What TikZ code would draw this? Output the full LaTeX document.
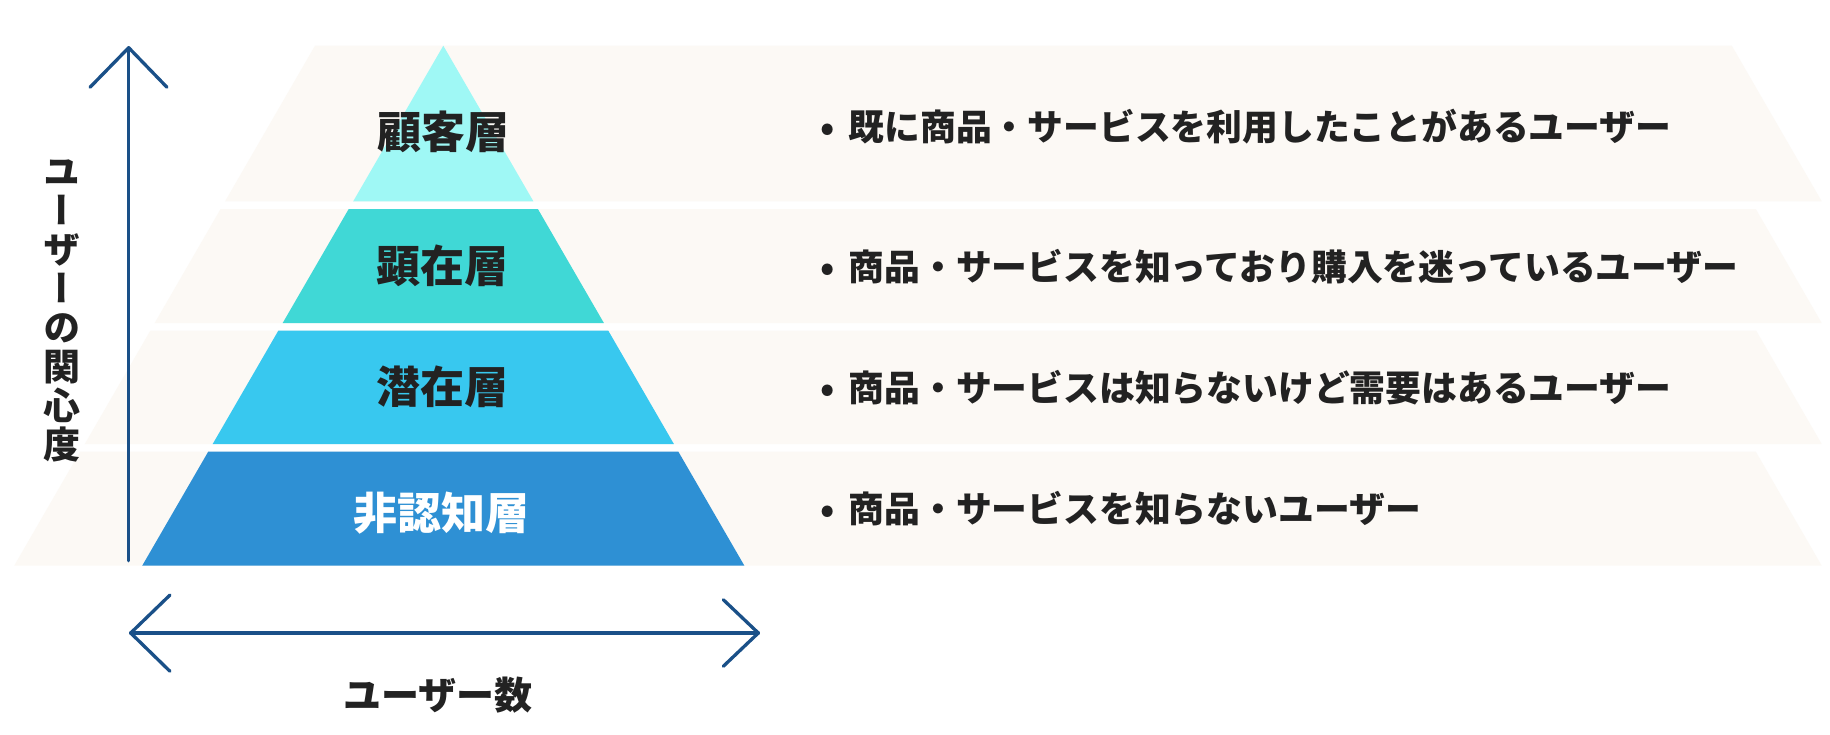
\documentclass[tikz,border=0pt]{standalone}
\usepackage{fontspec}
\usepackage{graphicx}
\newfontfamily\jp{Noto Sans CJK JP}
\newfontfamily\jpv[RawFeature=+vert]{Noto Sans CJK JP}
\definecolor{bandc}{HTML}{FCF9F5}
\definecolor{arrowc}{HTML}{1A5088}
\definecolor{txtc}{HTML}{222222}
\definecolor{lay1}{HTML}{9FF8F5}
\definecolor{lay2}{HTML}{40D8D6}
\definecolor{lay3}{HTML}{38C8EF}
\definecolor{lay4}{HTML}{2E90D4}
\newcommand{\bul}{•\hspace{6pt} }
\tikzset{
  axisline/.style={draw=arrowc, line width=3.3pt, line cap=round, line join=round},
  laylabel/.style={inner sep=0pt, font=\jp\bfseries\fontsize{44}{48}\selectfont, text=txtc},
  desc/.style={inner sep=0pt, anchor=west, font=\jp\bfseries\fontsize{35.8}{40}\selectfont, text=txtc},
  axlabel/.style={inner sep=0pt, font=\jp\bfseries\fontsize{38}{42}\selectfont, text=txtc},
}
\begin{document}
\begin{tikzpicture}[x=1pt,y=-1pt]
\useasboundingbox (0,0) rectangle (1830,734);
\fill[white] (0,0) rectangle (1830,734);
% background bands
\fill[bandc] (315,45.7) -- (1731.8,45.7) -- (1821.7,201.3) -- (225.1,201.3) -- cycle;
\fill[bandc] (220.6,209) -- (1755.8,209) -- (1821.7,323) -- (154.7,323) -- cycle;
\fill[bandc] (150.3,330.7) -- (1756.2,330.7) -- (1821.7,444) -- (84.8,444) -- cycle;
\fill[bandc] (80.1,451.7) -- (1755.8,451.7) -- (1821.7,565.7) -- (14.2,565.7) -- cycle;
% pyramid layers
\fill[lay1] (443.3,45.7) -- (533.4,201.3) -- (353.2,201.3) -- cycle;
\fill[lay2] (348.7,209) -- (537.9,209) -- (603.9,323) -- (282.7,323) -- cycle;
\fill[lay3] (278.3,330.7) -- (608.3,330.7) -- (673.9,444) -- (212.7,444) -- cycle;
\fill[lay4] (208.2,451.7) -- (678.4,451.7) -- (744.4,565.7) -- (142.2,565.7) -- cycle;
% layer labels
\node[laylabel] (l1) at (443,132) {顧客層};
\node[laylabel] (l2) at (442,266) {顕在層};
\node[laylabel] (l3) at (442,386.5) {潜在層};
\node[laylabel, text=white] (l4) at (441.5,513) {非認知層};
% descriptions
\node[desc] (d1) at (820,127) {\bul 既に商品・サービスを利用したことがあるユーザー};
\node[desc] (d2) at (820,267) {\bul 商品・サービスを知っており購入を迷っているユーザー};
\node[desc] (d3) at (820,388) {\bul 商品・サービスは知らないけど需要はあるユーザー};
\node[desc] (d4) at (820,509) {\bul 商品・サービスを知らないユーザー};
% axes
\coordinate (vbot) at (128.7,560.7);
\coordinate (vtop) at (128.7,47.7);
\coordinate (vhl) at (90,87.3);
\coordinate (vhr) at (167,87.3);
\draw[axisline] (vbot) -- (vtop);
\draw[axisline] (vhl) -- (vtop) -- (vhr);
\coordinate (hl) at (130.7,633);
\coordinate (hr) at (758.3,633);
\coordinate (hlu) at (170,595);
\coordinate (hld) at (170,671.3);
\coordinate (hru) at (723.3,599.7);
\coordinate (hrd) at (723.3,666.3);
\draw[axisline] (hl) -- (hr);
\draw[axisline] (hlu) -- (hl) -- (hld);
\draw[axisline] (hru) -- (hr) -- (hrd);
% axis labels
\node[inner sep=0pt, align=center, text=txtc, font=\jpv\bfseries\fontsize{37}{39}\selectfont] (vlab) at (61.7,311) {ユ\\ー\\ザ\\ー\\の\\関\\心\\度};
\node[axlabel] (hlab) at (438,695) {ユーザー数};
\end{tikzpicture}
\end{document}
